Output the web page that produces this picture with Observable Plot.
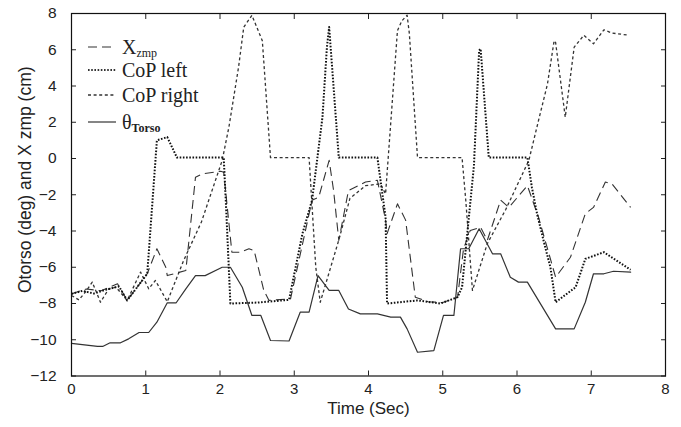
<!DOCTYPE html>
<html>
<head>
<meta charset="utf-8">
<script src="https://cdn.jsdelivr.net/npm/d3@7"></script>
<script src="https://cdn.jsdelivr.net/npm/@observablehq/plot@0.6"></script>
<style>
  html, body { margin: 0; padding: 0; background: #fff; }
  #wrap { position: relative; width: 681px; height: 427px; }
  #wrap svg { display: block; }
  #legend { position: absolute; left: 0; top: 0; }
</style>
</head>
<body>
<div id="wrap"></div>
<script>
// ---- data ----
const xTicks = [0, 1, 2, 3, 4, 5, 6, 7, 8];
const yTicks = [-12, -10, -8, -6, -4, -2, 0, 2, 4, 6, 8];

const xzmpT = [0,0.2,0.4,0.62,0.75,1.02,1.15,1.27,1.29,1.54,1.67,1.76,2.01,2.05,2.16,2.28,2.39,2.46,2.59,2.66,2.95,3.24,3.33,3.47,3.53,3.60,3.73,3.96,4.12,4.23,4.25,4.39,4.50,4.63,4.8,5.0,5.2,5.28,5.37,5.51,5.6,5.78,5.89,6.14,6.29,6.52,6.72,6.92,7.03,7.19,7.28,7.53];
const xzmpV = [-7.47,-7.2,-7.3,-6.91,-7.83,-6.36,-4.98,-6.0,-6.46,-6.18,-1.03,-0.85,-0.7,-0.76,-5.17,-5.17,-4.98,-5.08,-7.28,-7.83,-7.74,-2.3,-2.13,-0.1,-1.77,-4.52,-1.77,-1.3,-1.2,-3.4,-4.15,-2.5,-3.4,-7.65,-7.9,-7.95,-7.65,-4.98,-3.97,-3.8,-4.52,-2.3,-2.7,-1.5,-3.24,-6.55,-5.45,-3.05,-2.7,-1.3,-1.4,-2.7];

const copLeftT = [0,0.15,0.3,0.45,0.64,0.75,1.02,1.15,1.29,1.42,2.05,2.08,2.14,2.5,2.93,3.11,3.24,3.38,3.44,3.47,3.49,3.60,4.12,4.23,4.25,4.66,4.97,5.2,5.26,5.33,5.42,5.49,5.51,5.62,6.14,6.2,6.27,6.38,6.45,6.52,6.79,6.92,7.17,7.53];
const copLeftV = [-7.47,-7.3,-7.45,-7.25,-7.06,-7.83,-6.36,1.0,1.18,0.05,0.05,-2.5,-8.0,-7.95,-7.8,-4.15,-2.3,2.28,6.14,7.25,6.14,0.05,0.05,-3.24,-8.0,-7.83,-8.0,-7.65,-7.1,-4.15,-0.4,5.96,6.05,0.05,0.05,-1.58,-3.05,-4.9,-6.0,-7.93,-7.1,-5.54,-5.17,-6.14];

const copRightT = [0,0.1,0.2,0.28,0.39,0.5,0.6,0.75,0.93,1.04,1.13,1.29,1.51,1.75,2.03,2.12,2.25,2.32,2.43,2.57,2.68,3.20,3.29,3.35,3.6,3.75,3.96,4.16,4.23,4.39,4.45,4.52,4.55,4.66,5.26,5.31,5.40,5.6,5.85,6.16,6.29,6.41,6.5,6.52,6.65,6.77,6.9,7.03,7.17,7.28,7.51];
const copRightV = [-7.56,-7.8,-7.3,-6.82,-7.93,-7.2,-7.1,-7.83,-6.27,-7.19,-6.73,-7.9,-5.63,-3.5,-0.1,1.73,5.04,7.25,7.9,6.5,0.05,0.05,-6.0,-7.93,-4.5,-2.2,-1.5,-1.4,-1.95,7.06,7.6,7.9,6.9,0.05,0.05,-2.3,-7.28,-4.7,-2.8,-0.1,2.1,4.1,6.5,6.4,2.28,6.14,6.8,6.33,7.1,6.92,6.8];

const thetaT = [0,0.35,0.42,0.52,0.66,0.77,0.91,1.04,1.15,1.29,1.41,1.54,1.67,1.80,2.03,2.14,2.30,2.43,2.55,2.68,2.93,3.08,3.20,3.32,3.47,3.60,3.73,3.89,4.12,4.30,4.43,4.52,4.66,4.88,5.01,5.15,5.24,5.35,5.49,5.67,5.78,5.91,6.02,6.14,6.52,6.77,6.92,7.03,7.17,7.30,7.53];
const thetaV = [-10.2,-10.37,-10.37,-10.17,-10.17,-9.95,-9.6,-9.6,-9.03,-7.96,-7.96,-7.19,-6.46,-6.46,-6.0,-6.0,-7.1,-8.66,-8.66,-10.04,-10.07,-8.48,-8.48,-6.46,-7.28,-7.28,-8.3,-8.57,-8.57,-8.75,-8.75,-9.4,-10.69,-10.6,-8.66,-8.66,-4.98,-4.98,-3.88,-5.26,-5.26,-6.55,-6.82,-6.82,-9.4,-9.4,-7.93,-6.36,-6.36,-6.22,-6.27];

const xLabel = "Time (Sec)";
const yLabel = "Otorso (deg) and X zmp (cm)";

// ---- build tables ----
const toRows = (T, V) => T.map((t, i) => ({t, v: V[i]}));
const xzmp = toRows(xzmpT, xzmpV);
const copLeft = toRows(copLeftT, copLeftV);
const copRight = toRows(copRightT, copRightV);
const theta = toRows(thetaT, thetaV);

const ink = "#333";
const blank = () => "";
const dashX = "9,5", dashL = "1.6,1.6", dashR = "3,2.6";

const chart = Plot.plot({
  width: 681,
  height: 427,
  marginLeft: 71,
  marginRight: 16,
  marginTop: 13,
  marginBottom: 51.5,
  style: {fontFamily: "'Liberation Sans', Arial, sans-serif", fontSize: "15px", color: "#222", background: "#fff"},
  x: {domain: [0, 8]},
  y: {domain: [-12, 8]},
  marks: [
    Plot.axisX({anchor: "bottom", ticks: xTicks, tickSize: -5, tickPadding: 12, label: null, fontSize: 15}),
    Plot.axisX({anchor: "top", ticks: xTicks, tickSize: -5, tickFormat: blank, label: null}),
    Plot.axisY({anchor: "left", ticks: yTicks, tickSize: -5, tickPadding: 20, label: null, fontSize: 15.5}),
    Plot.axisY({anchor: "right", ticks: yTicks, tickSize: -5, tickFormat: blank, label: null}),
    Plot.line(theta, {x: "t", y: "v", stroke: ink, strokeWidth: 1.2}),
    Plot.line(xzmp, {x: "t", y: "v", stroke: ink, strokeWidth: 1.1, strokeDasharray: dashX, strokeLinecap: "butt"}),
    Plot.line(copRight, {x: "t", y: "v", stroke: ink, strokeWidth: 1.3, strokeDasharray: dashR, strokeLinecap: "butt"}),
    Plot.line(copLeft, {x: "t", y: "v", stroke: "#111", strokeWidth: 2, strokeDasharray: dashL, strokeLinecap: "butt"}),
    Plot.frame({stroke: "#111", strokeWidth: 1.2}),
    Plot.text([xLabel], {frameAnchor: "bottom", dy: 38, text: d => d, fontSize: 17, fill: "#222"}),
    Plot.text([yLabel], {frameAnchor: "left", textAnchor: "middle", dx: -46, dy: -15, rotate: -90, text: d => d, fontSize: 17.5, fill: "#222"})
  ]
});

const wrap = document.getElementById("wrap");
wrap.appendChild(chart);

// ---- legend overlay (inside the plot, upper left) ----
const legendItems = [
  {main: "X", sub: "zmp", dash: dashX, width: 1.1, y: 47},
  {main: "CoP left", sub: "", dash: dashL, width: 2, y: 70},
  {main: "CoP right", sub: "", dash: dashR, width: 1.3, y: 95},
  {main: "\u03B8", sub: "Torso", dash: null, width: 1.2, y: 122}
];
const ns = "http://www.w3.org/2000/svg";
const lg = document.createElementNS(ns, "svg");
lg.setAttribute("id", "legend");
lg.setAttribute("width", 681);
lg.setAttribute("height", 427);
for (const it of legendItems) {
  const ln = document.createElementNS(ns, "line");
  ln.setAttribute("x1", 88); ln.setAttribute("x2", 116);
  ln.setAttribute("y1", it.y); ln.setAttribute("y2", it.y);
  ln.setAttribute("stroke", ink);
  ln.setAttribute("stroke-width", it.width);
  if (it.dash) ln.setAttribute("stroke-dasharray", it.dash);
  lg.appendChild(ln);
  const tx = document.createElementNS(ns, "text");
  tx.setAttribute("x", 122);
  tx.setAttribute("y", it.y + 6.5);
  tx.setAttribute("font-family", "'Liberation Serif', 'Times New Roman', serif");
  tx.setAttribute("font-size", 20);
  tx.setAttribute("fill", "#222");
  const m = document.createElementNS(ns, "tspan");
  m.textContent = it.main;
  tx.appendChild(m);
  if (it.sub) {
    const s = document.createElementNS(ns, "tspan");
    s.setAttribute("dy", 3);
    s.setAttribute("font-size", 12);
    s.setAttribute("font-weight", it.sub === "Torso" ? "bold" : "normal");
    s.textContent = it.sub;
    tx.appendChild(s);
  }
  lg.appendChild(tx);
}
wrap.appendChild(lg);
</script>
</body>
</html>
